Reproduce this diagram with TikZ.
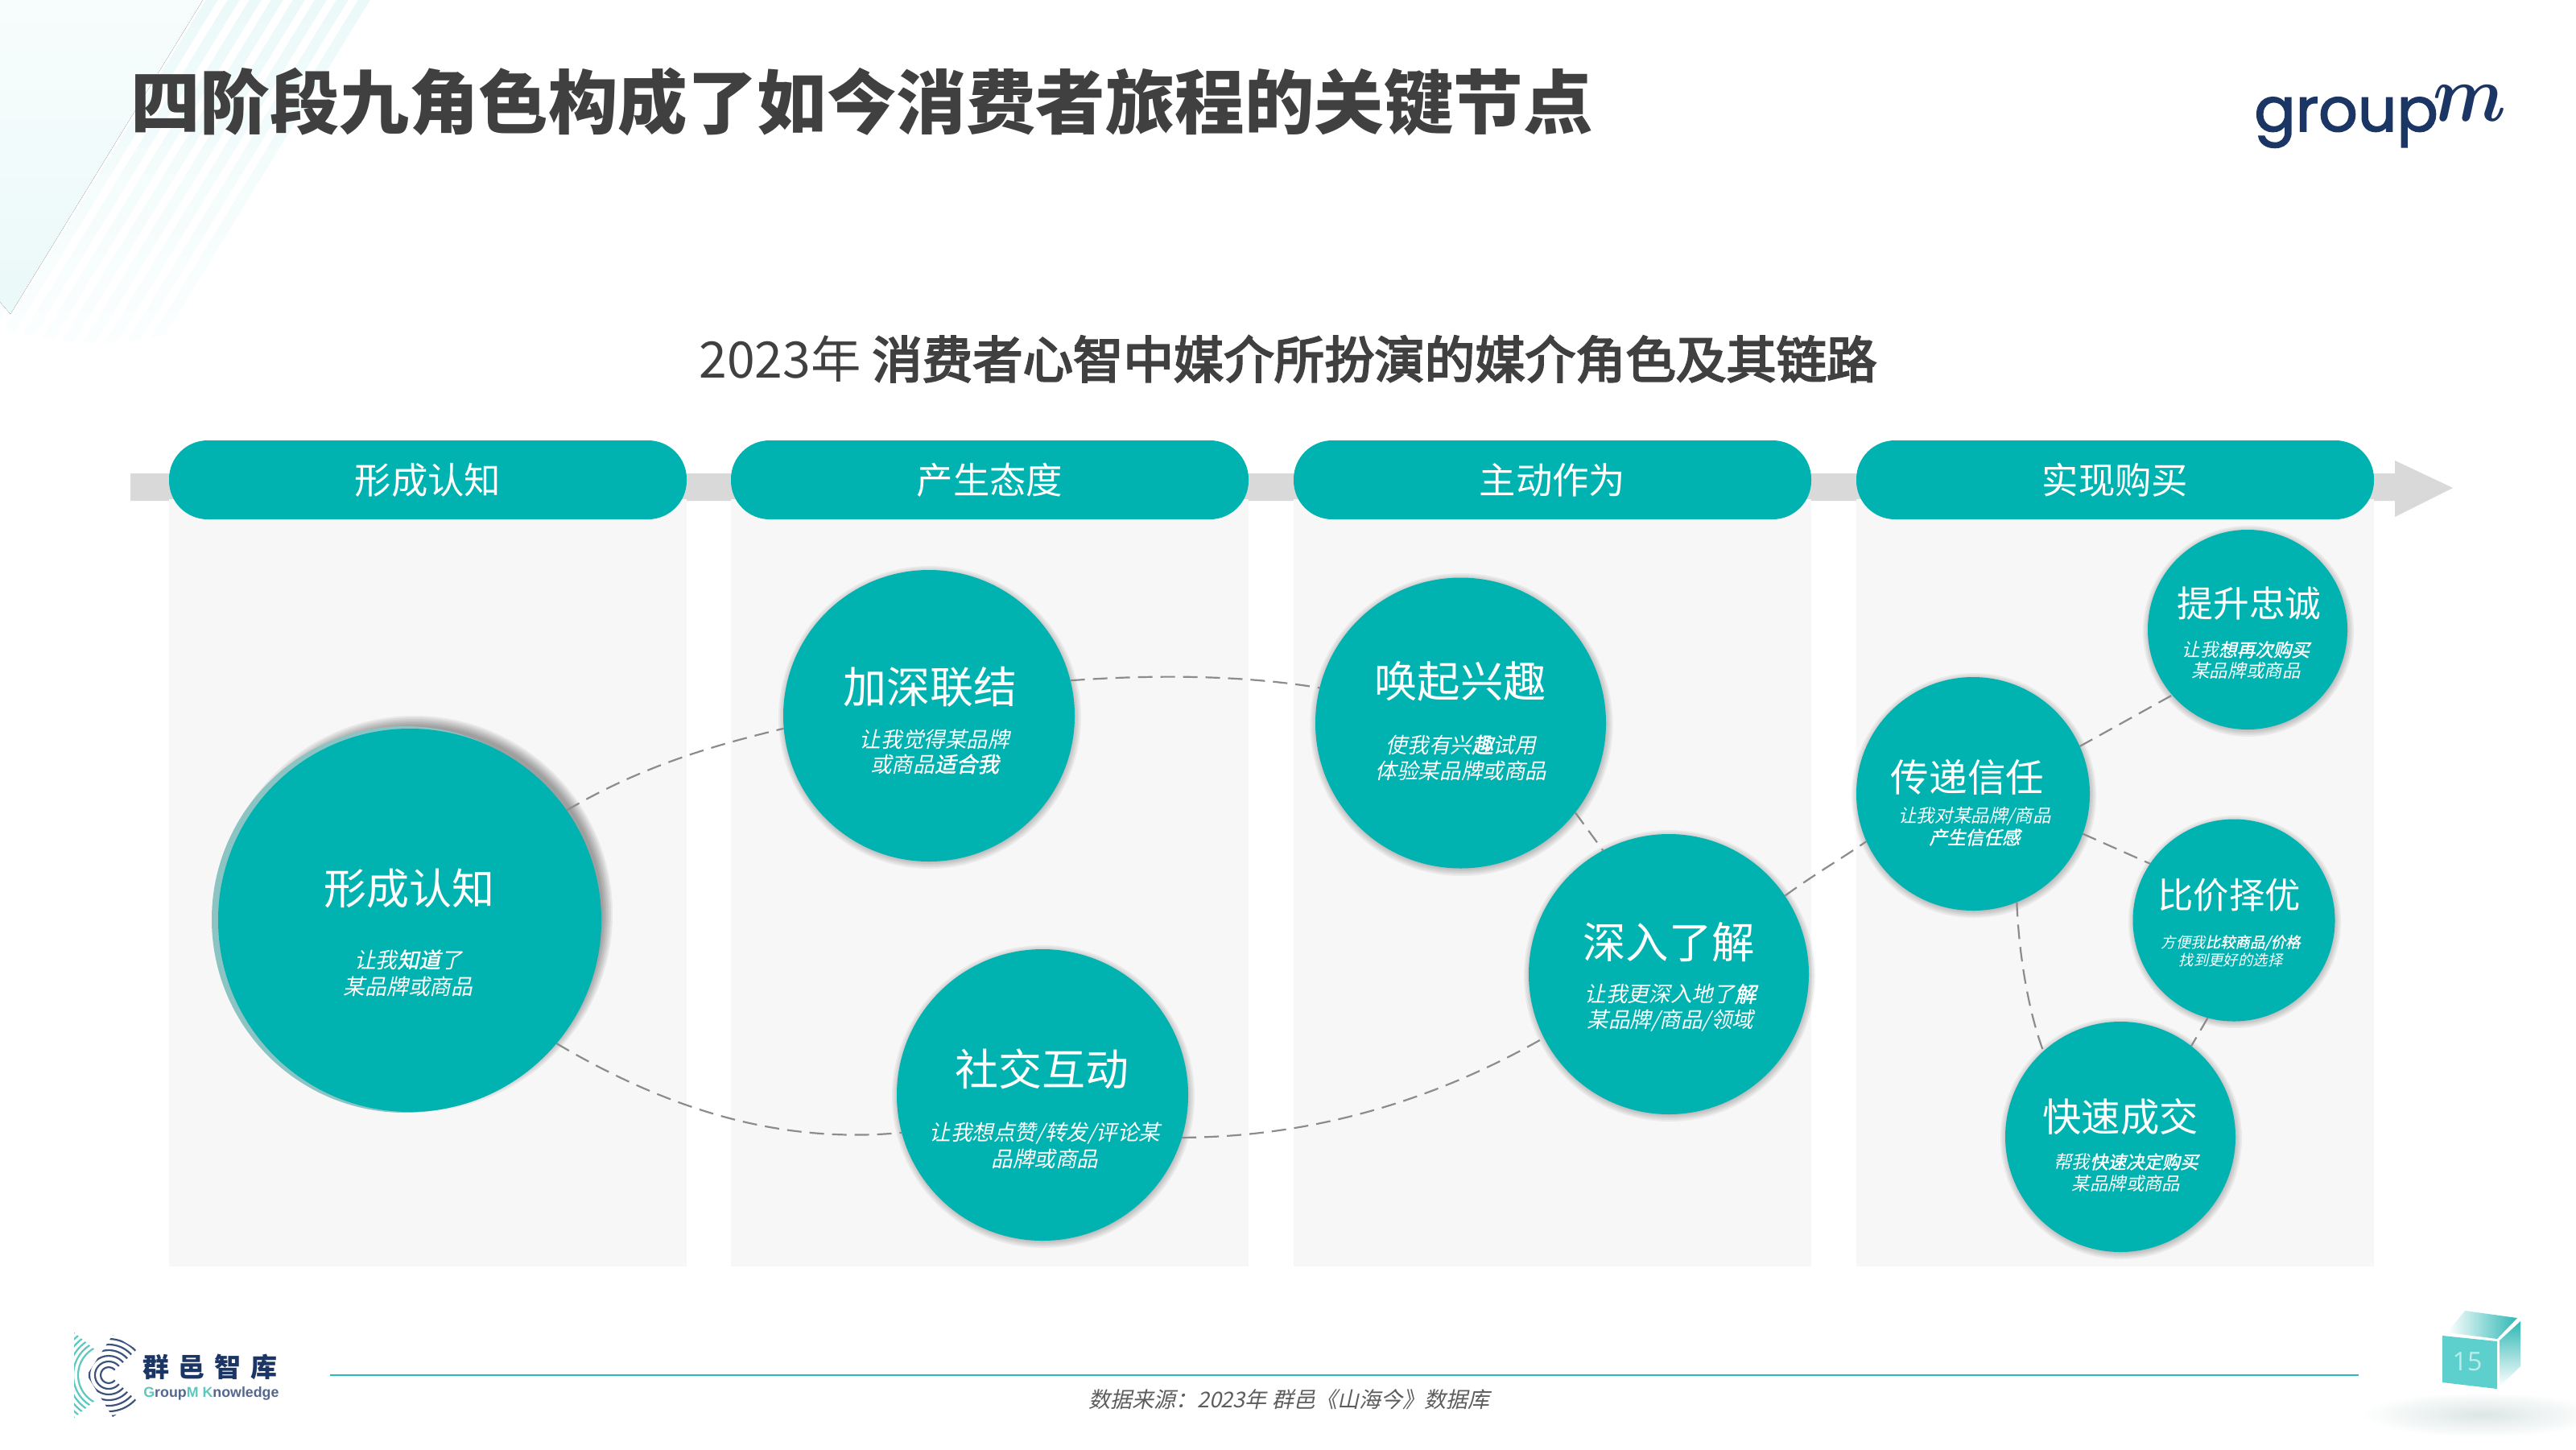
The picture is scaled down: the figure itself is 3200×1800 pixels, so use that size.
\documentclass[tikz,border=0pt]{standalone}
\usepackage{fontspec}
\setmainfont{Noto Sans CJK SC}
\newfontfamily\cjkslant[FakeSlant=0.22]{Noto Sans CJK SC}
\newfontfamily\cjkslantb[FakeSlant=0.22,FakeBold=1.6]{Noto Sans CJK SC}
\newfontfamily\cjkmed[FakeBold=3.5]{Noto Sans CJK SC}
\newfontfamily\logosans[FakeBold=2]{Poppins}
\newfontfamily\arialf{Liberation Sans}
\newfontfamily\opensans{Open Sans}
\usetikzlibrary{arrows.meta,calc}
\definecolor{teal1}{HTML}{00B2B0}
\definecolor{panelg}{HTML}{F7F7F7}
\definecolor{bandg}{HTML}{D9D9D9}
\definecolor{titleg}{HTML}{404040}
\definecolor{navy}{HTML}{1B3564}
\definecolor{mint}{HTML}{5CC8BE}
\definecolor{cube}{HTML}{5DCFCD}
\definecolor{cube2}{HTML}{2FB8B5}
\definecolor{link}{HTML}{8C8C8C}
\definecolor{crescent}{HTML}{8CC4C4}
\newcommand\fs[2]{\fontsize{#1}{#2}\selectfont}
\newcommand\emb[1]{{\cjkslantb #1}}
\newcommand\softshadow[5]{%
  \foreach \k in {0,2,...,#5}{\fill[black,opacity=#4] (#1,#2) circle[radius={(#3+\k)*0.5pt}];}}
\tikzset{
  x=0.5pt,y=-0.5pt,
  pill/.style={fill=teal1,rounded corners=24pt,minimum width=321.5pt,minimum height=49pt,inner sep=0pt,text=white,font=\fs{22.7}{26}},
  panel/.style={fill=panelg,draw=none},
  bub/.style={circle,fill=teal1,inner sep=0pt,outer sep=0pt},
  ttl/.style={text=white,inner sep=0pt,anchor=center},
  subt/.style={text=white,inner sep=0pt,align=center,anchor=center},
  linkline/.style={draw=link,line width=1.1pt,dash pattern=on 9pt off 5pt},
}
\begin{document}
\begin{tikzpicture}
\useasboundingbox (0,0) rectangle (3200,1800);
\fill[white] (0,0) rectangle (3200,1800);
% top-left decoration
\begin{scope}
\clip (120,70) circle[radius=178pt];
\foreach \d in {0,27,...,216}{
  \path[top color=teal1!9,bottom color=white] ($(290+\d,-100)$) -- ($(305+\d,-100)$) -- ($(305+\d-380,520)$) -- ($(290+\d-380,520)$) -- cycle;
}
\end{scope}
\fill[top color=teal1!3,bottom color=teal1!8] (0,0) -- (252,0) -- (13,390) -- (0,375) -- cycle;
% title
\node[anchor=west,inner sep=0pt,text=titleg,font=\fs{43.25}{50}\bfseries] (title) at (162,127) {四阶段九角色构成了如今消费者旅程的关键节点};
\node[anchor=center,inner sep=0pt,text=titleg,font=\fs{31.2}{36}] (subtitle) at (1600,446) {2023年 {\cjkmed 消费者心智中媒介所扮演的媒介角色及其链路}};
% logo groupm
\node[anchor=base west,inner sep=0pt,text=navy,font=\logosans\fs{38}{40}] (gm) at (2800,163) {group};
\node[anchor=base west,inner sep=0pt,text=navy] (gm2) at (3022,150) {\scalebox{4.4}[5]{\boldmath$m$}};
% band and arrow
\fill[bandg] (162,588) -- (2975,588) -- (2975,572) -- (3047,606) -- (2975,642) -- (2975,622) -- (162,622) -- cycle;
% panels
\fill[panel] (210,620) rectangle (853,1573);
\fill[panel] (908,620) rectangle (1551,1573);
\fill[panel] (1607,620) rectangle (2250,1573);
\fill[panel] (2306,620) rectangle (2949,1573);
\node[pill] (h1) at (531.5,596) {形成认知};
\node[pill] (h2) at (1229.5,596) {产生态度};
\node[pill] (h3) at (1928.5,596) {主动作为};
\node[pill] (h4) at (2627.5,596) {实现购买};
% shadows
\softshadow{515}{1135}{234}{.06}{12}
\softshadow{1155}{891}{178}{.05}{10}
\softshadow{1296}{1362}{178}{.05}{10}
\softshadow{1815.5}{900}{178}{.05}{10}
\softshadow{2074}{1212}{171}{.05}{10}
\softshadow{2452}{988}{142}{.05}{10}
\softshadow{2793}{784}{121}{.05}{10}
\softshadow{2776}{1145}{122}{.05}{10}
\softshadow{2635}{1414}{140}{.05}{10}
\fill[crescent] (503,1142) circle[radius=120pt];
% bubbles
\node[bub,minimum size=238pt] (c1) at (509,1143) {};
\node[bub,minimum size=181pt] (c2) at (1154,889) {};
\node[bub,minimum size=181pt] (c3) at (1295,1360) {};
\node[bub,minimum size=180.5pt] (c4) at (1814.5,898) {};
\node[bub,minimum size=174pt] (c5) at (2073,1210) {};
\node[bub,minimum size=145pt] (c6) at (2451,986) {};
\node[bub,minimum size=124pt] (c7) at (2792,782) {};
\node[bub,minimum size=125.5pt] (c8) at (2775,1143) {};
\node[bub,minimum size=143pt] (c9) at (2634,1412) {};
% connectors
\draw[linkline] (c1.35) .. controls (800,950) and (890,925) .. (c2.185);
\draw[linkline] (c1.-40) .. controls (820,1372) and (960,1422) .. (c3.195.5);
\draw[linkline] (c2.14) .. controls (1430,838) and (1540,838) .. (c4.166);
\draw[linkline] (c3.-17) .. controls (1640,1412) and (1790,1362) .. (c5.207.6);
\draw[linkline] (c4.-38) -- (c5.118);
\draw[linkline] (c5.34.6) .. controls (2255,1085) and (2290,1065) .. (c6.204.5);
\draw[linkline] (c6.24) -- (c7.221);
\draw[linkline] (c6.-20.5) -- (c8.146.5);
\draw[linkline] (c6.-68.7) .. controls (2508,1190) and (2521,1260) .. (c9.132);
\draw[linkline] (c8.255) -- (c9.52);
% bubble text
\node[ttl,font=\fs{26.5}{30}] (c1t) at (508,1103) {形成认知};
\node[subt,font=\cjkslant\fs{13.4}{16.5}] (c1s) at (507,1208.5) {让我\emb{知道}了\\某品牌或商品};
\node[ttl,font=\fs{27}{30}] (c2t) at (1155,853) {加深联结};
\node[subt,font=\cjkslant\fs{13.3}{15.5}] (c2s) at (1161,933.5) {让我觉得某品牌\\或商品\emb{适合我}};
\node[ttl,font=\fs{27}{30}] (c3t) at (1294,1328) {社交互动};
\node[subt,font=\cjkslant\fs{13.3}{16.5}] (c3s) at (1298,1422.5) {让我想点赞/转发/评论某\\品牌或商品};
\node[ttl,font=\fs{26.7}{30}] (c4t) at (1814,846) {唤起兴趣};
\node[subt,font=\cjkslant\fs{13.3}{16}] (c4s) at (1815,941) {使我有兴\emb{趣}试用\\体验某品牌或商品};
\node[ttl,font=\fs{26.7}{30}] (c5t) at (2073,1170) {深入了解};
\node[subt,font=\cjkslant\fs{13.3}{16}] (c5s) at (2075,1252) {让我更深入地了\emb{解}\\某品牌/商品/领域};
\node[ttl,font=\fs{23.8}{28}] (c6t) at (2444,965) {传递信任};
\node[subt,font=\cjkslant\fs{11.3}{13.5}] (c6s) at (2453,1026.5) {让我对某品牌/商品\\\emb{产生信任感}};
\node[ttl,font=\fs{22.4}{26}] (c7t) at (2794,750) {提升忠诚};
\node[subt,font=\cjkslant\fs{11.3}{13}] (c7s) at (2790,820) {让我\emb{想再次购买}\\某品牌或商品};
\node[ttl,font=\fs{22.2}{26}] (c8t) at (2769,1112) {比价择优};
\node[subt,font=\cjkslant\fs{9.2}{11}] (c8s) at (2771,1181) {方便我\emb{比较商品/价格}\\找到更好的选择};
\node[ttl,font=\fs{24.2}{28}] (c9t) at (2634,1387) {快速成交};
\node[subt,font=\cjkslant\fs{11.2}{13.5}] (c9s) at (2641,1456.5) {帮我\emb{快速决定购买}\\某品牌或商品};
% footer
\coordinate (fl) at (410,1708);
\coordinate (fr) at (2930,1708);
\draw[teal1!85,line width=1.25pt] (fl) -- (fr);
\node[inner sep=0pt,text=titleg!85,font=\cjkslant\fs{13.5}{15}] (src) at (1601,1738) {数据来源：2023年 群邑《山海今》数据库};
% GroupM Knowledge logo
\begin{scope}
\clip (92,1655) -- (132,1688) -- (108,1708) -- (132,1728) -- (92,1761) -- cycle;
\foreach \r in {38,44,50,56,62,68}{\draw[mint,line width=1.1pt] (135,1708) circle[radius=\r*0.5pt];}
\end{scope}
\begin{scope}
\clip (140,1658) -- (170,1676) -- (136,1708) -- (170,1740) -- (140,1760) -- (108,1708) -- cycle;
\foreach \r in {10,17,24,31,38,45,51}{\draw[navy!85,line width=1.1pt] (135,1708) circle[radius=\r*0.5pt];}
\end{scope}
\node[anchor=west,inner sep=0pt,text=navy,font=\fs{16.5}{18}\bfseries] (lg1) at (177,1698) {群\hspace{5.8pt}邑\hspace{5.8pt}智\hspace{5.8pt}库};
\node[anchor=west,inner sep=0pt,text=navy!75,font=\arialf\bfseries\fs{8.9}{12}] (lg2) at (178,1731) {\textcolor{mint}{G}roup\textcolor{mint}{M} \textcolor{mint}{K}nowledge};
% cube
\shade[inner color=teal1!22!gray!22,outer color=white] (3083,1757) ellipse[x radius=150pt*0.5,y radius=28pt*0.5];
\fill[cube] (3034,1659) -- (3102,1666) -- (3102,1725) -- (3034,1717) -- cycle;
\path[left color=white,right color=cube2] (3040,1655) -- (3062,1628) -- (3127,1637) -- (3102,1663) -- cycle;
\path[top color=cube2,bottom color=white] (3105,1665) -- (3131,1641) -- (3131,1697) -- (3105,1722) -- cycle;
\node[inner sep=0pt,text=white!60!cube,font=\opensans\fs{16}{18}] (pg) at (3065,1691) {15};
\end{tikzpicture}
\end{document}
